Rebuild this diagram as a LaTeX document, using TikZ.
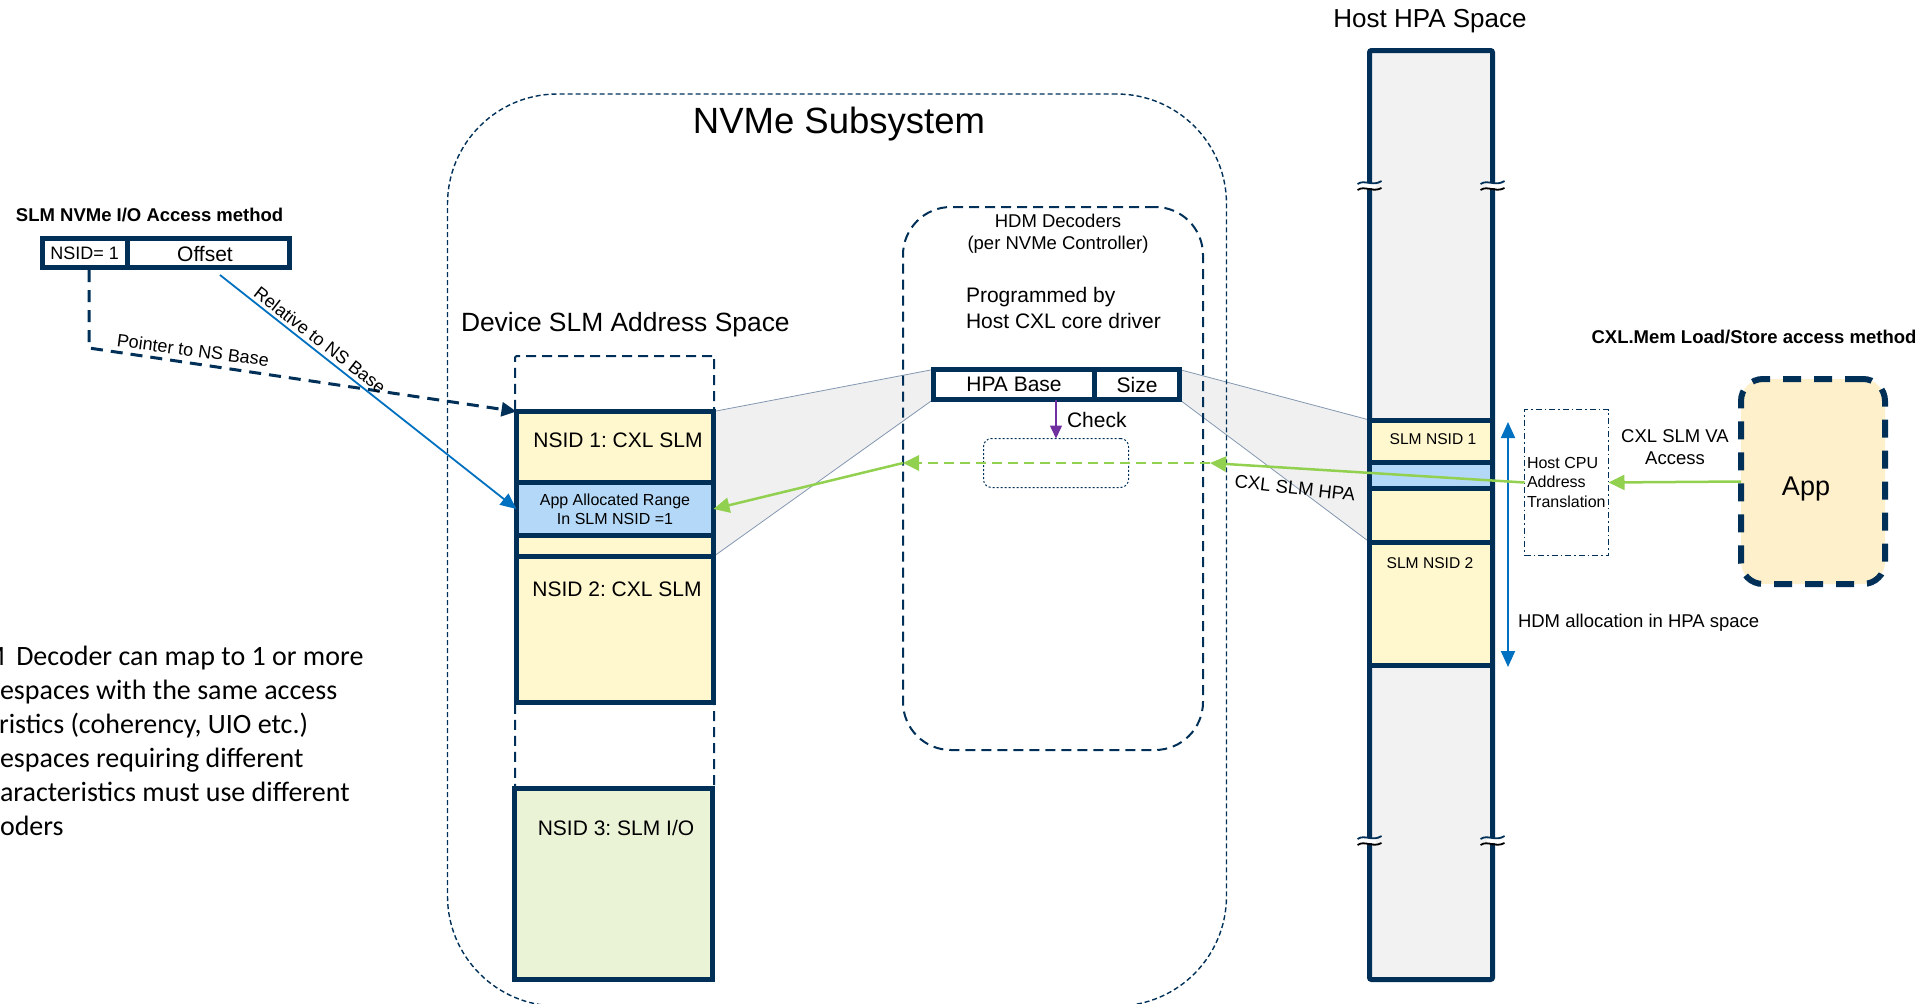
\documentclass[tikz,border=0pt]{standalone}
\usepackage{fontspec}
\setmainfont{Liberation Sans}
\newfontfamily\notefont{Carlito}
\usetikzlibrary{arrows.meta,backgrounds}
\frenchspacing

\newcommand\fsz[2]{\fontsize{#1}{#2}\selectfont}

\definecolor{navy}{HTML}{003057}
\definecolor{slmyel}{HTML}{FFF7CE}
\definecolor{rngblue}{HTML}{B4D8F8}
\definecolor{iogreen}{HTML}{EBF3D7}
\definecolor{appfill}{HTML}{FFF0CC}
\definecolor{colgray}{HTML}{F2F2F2}
\definecolor{quadgray}{HTML}{F0F0F0}
\definecolor{quadline}{HTML}{8497B0}
\definecolor{arrgreen}{HTML}{92D050}
\definecolor{arrblue}{HTML}{0070C0}
\definecolor{chkpurple}{HTML}{7030A0}

\tikzset{
  navyline/.style={draw=navy, line width=5pt},
  subsys/.style={draw=navy, line width=1.4pt, dash pattern=on 5pt off 3pt, rounded corners=110pt},
  hdmbox/.style={draw=navy, line width=2pt, dash pattern=on 10pt off 6pt, rounded corners=48pt},
  colbox/.style={draw=navy, line width=2pt, dash pattern=on 10pt off 6pt, rounded corners=2pt},
  membox/.style={navyline, fill=slmyel, minimum width=197pt},
  rangebox/.style={navyline, fill=rngblue, minimum width=197pt},
  iobox/.style={navyline, fill=iogreen},
  fieldbox/.style={navyline, fill=white},
  hostcol/.style={navyline, fill=colgray, rounded corners=2pt},
  hostseg/.style={navyline, minimum width=123pt},
  chkbox/.style={draw=navy, line width=1pt, dash pattern=on 2pt off 2pt, rounded corners=8pt},
  xlatebox/.style={draw=navy, line width=1.3pt, dash pattern=on 6pt off 3pt on 1.5pt off 3pt},
  appbox/.style={draw=navy, fill=appfill, line width=6pt, dash pattern=on 18pt off 13pt, rounded corners=22pt},
  projquad/.style={fill=quadgray, draw=quadline, line width=0.8pt},
  garrow/.style={draw=arrgreen, line width=2.5pt, -{Triangle[length=16pt,width=15pt]}},
  gdash/.style={garrow, line width=2.8pt, dash pattern=on 10pt off 6pt},
  barrow/.style={draw=arrblue, line width=1.8pt, -{Triangle[length=16pt,width=14pt]}},
  bdouble/.style={draw=arrblue, line width=2pt, {Triangle[length=16pt,width=14pt]}-{Triangle[length=16pt,width=14pt]}},
  ptrarrow/.style={draw=navy, line width=3pt, dash pattern=on 12pt off 8pt, -{Triangle[length=15pt,width=14pt]}},
  parrow/.style={draw=chkpurple, line width=1.5pt, -{Triangle[length=13pt,width=12pt]}},
  lbl/.style={font=\fsz{21}{25}},
  small/.style={font=\fsz{18.5}{22}},
  boldlbl/.style={font=\bfseries\fsz{18.5}{22}},
  notetext/.style={anchor=base west, font=\notefont\fsz{28}{34}},
}

\begin{document}
\begin{tikzpicture}[x=1pt, y=-1pt, every node/.style={inner sep=0pt, outer sep=0pt}]
\path[use as bounding box, clip] (0,0) rectangle (1931,1004);

% NVMe subsystem container
\node[subsys, minimum width=779pt, minimum height=912pt] (sub) at (837,550) {};
\node[font=\fsz{36.5}{40}] (subtitle) at (839,124) {NVMe Subsystem};

% HDM decoder container
\node[hdmbox, minimum width=300pt, minimum height=543pt] (hdm) at (1053,478.5) {};
\node[small, align=center] (hdmtitle) at (1058,234) {HDM Decoders\\(per NVMe Controller)};
\node[lbl, anchor=west, align=left, font=\fsz{21}{26}] (prog) at (966,308) {Programmed by\\Host CXL core driver};

% device SLM address space
\node[anchor=west, font=\fsz{26.4}{30}] (devtitle) at (461,325) {Device SLM Address Space};
\node[colbox, minimum width=199pt, minimum height=434pt] (devcol) at (614.5,573) {};
\node[membox, minimum height=145pt] (nsid1) at (615,484) {};
\node[rangebox, minimum height=53pt, align=center, font=\fsz{16}{19}] (appr) at (615,509) {App Allocated Range\\In SLM NSID =1};
\node[membox, minimum height=146pt] (nsid2) at (615,629) {};
\node[iobox, minimum width=198pt, minimum height=191pt] (nsid3) at (613.5,884) {};
\node[lbl] (nsid1lbl) at (618,440) {NSID 1: CXL SLM};
\node[lbl] (nsid2lbl) at (617,589) {NSID 2: CXL SLM};
\node[lbl] (nsid3lbl) at (616,828) {NSID 3: SLM I/O};

% decoder register
\node[fieldbox, lbl, minimum width=161.5pt, minimum height=30pt] (hpabase) at (1014,384.5) {HPA Base};
\node[fieldbox, lbl, minimum width=84.5pt, minimum height=30pt] (hpasize) at (1137,384.5) {Size};
\node[chkbox, minimum width=145pt, minimum height=49pt] (chk) at (1056,463) {};
\draw[parrow] (hpabase.south -| chk.north) -- (chk.north);
\node[lbl, anchor=west] (chklbl) at (1067,420) {Check};

% host HPA space
\node[font=\fsz{26}{30}] (hosttitle) at (1430,21) {Host HPA Space};
\node[hostcol, minimum width=123pt, minimum height=929pt] (hcol) at (1431,515) {};
\node[hostseg, fill=slmyel, minimum height=122pt] (hslm1) at (1431,481) {};
\node[hostseg, fill=slmyel, minimum height=123pt] (hslm2) at (1431,603.5) {};
\node[hostseg, fill=rngblue, minimum height=26pt] (hblue) at (1431,475.5) {};
\node[font=\fsz{15.6}{18}] (hslm1lbl) at (1433,439) {SLM NSID 1};
\node[font=\fsz{15.6}{18}] (hslm2lbl) at (1430,563) {SLM NSID 2};

% break marks on the host column
\foreach \bx in {1369.5,1492.5} {
  \foreach \by in {185,840} {
    \fill[white] (\bx-6,\by-2) rectangle (\bx+6,\by+3);
    \draw[navy, line width=1.8pt] (\bx-12,\by-1) .. controls (\bx-5,\by-6) and (\bx+3,\by+2) .. (\bx+12,\by-4);
    \draw[black, line width=1.8pt] (\bx-12,\by+5) .. controls (\bx-5,\by) and (\bx+3,\by+8) .. (\bx+12,\by+3);
  }
}

% HDM allocation range
\coordinate (dtop) at (1508,422);
\coordinate (dbot) at (1508,667);
\draw[bdouble] (dtop) -- (dbot);
\node[small, anchor=west] (alloclbl) at (1518,623) {HDM allocation in HPA space};

% host side access path
\node[xlatebox, minimum width=84pt, minimum height=146pt] (hcpu) at (1566.5,482.5) {};
\node[anchor=west, align=left, font=\fsz{16}{19.5}] (hcpulbl) at (1527,482) {Host CPU\\Address\\Translation};
\node[appbox, minimum width=144pt, minimum height=205pt] (app) at (1813,481.5) {};
\node[font=\fsz{27}{30}] (applbl) at (1806,489) {App};
\node[small, align=center] (valbl) at (1675,447) {CXL SLM VA\\Access};
\node[boldlbl] (cxltitle) at (1754,337) {CXL.Mem Load/Store access method};

% NVMe I/O access method
\node[boldlbl, anchor=west] (iotitle) at (16,215) {SLM NVMe I/O Access method};
\node[fieldbox, font=\fsz{18}{21}, minimum width=84.5pt, minimum height=29pt] (nsidc) at (84.75,253) {NSID= 1};
\node[fieldbox, minimum width=162.5pt, minimum height=29pt] (offc) at (208.25,253) {};
\node[lbl] (offlbl) at (205,254) {Offset};
\coordinate (pstart) at (89,270);
\coordinate (pbend) at (89,348);
\draw[ptrarrow] (pstart) -- (pbend) -- (nsid1.north west);
\node[font=\fsz{18}{22}, rotate=-7.6] (ptrlbl) at (193,350) {Pointer to NS Base};
\coordinate (relstart) at (220,275);
\draw[barrow] (relstart) -- (appr.west);
\node[font=\fsz{18}{22}, rotate=-38] (rellbl) at (320,340) {Relative to NS Base};

% CXL.mem translation path
\coordinate (gR) at (1210,463);
\coordinate (gL) at (903,463);
\draw[garrow] (app.west) -- (hcpu.east);
\draw[garrow] (hcpu.west) -- (gR);
\draw[gdash] (gR) -- (gL);
\draw[garrow] (gL) -- (appr.east);
\node[small, rotate=-6.5] (hpalbl) at (1295,488) {CXL SLM HPA};

% projections of the decoder register
\begin{scope}[on background layer]
  \draw[projquad] (hpabase.north west) -- (hpabase.south west) -- (nsid1.south east) -- (nsid1.north east) -- cycle;
  \draw[projquad] (hpasize.north east) -- (hpasize.south east) -- (hslm1.south west) -- (hslm1.north west) -- cycle;
\end{scope}

% notes
\node[notetext] (n1) at (-19,665) {M\kern5pt{} Decoder can map to 1 or more};
\node[notetext] (n2) at (0,699) {espaces with the same access};
\node[notetext] (n3) at (-1,733) {ristics (coherency, UIO etc.)};
\node[notetext] (n4) at (0,767) {espaces requiring different};
\node[notetext] (n5) at (0,801) {aracteristics must use different};
\node[notetext] (n6) at (0,835) {oders};
\end{tikzpicture}
\end{document}
